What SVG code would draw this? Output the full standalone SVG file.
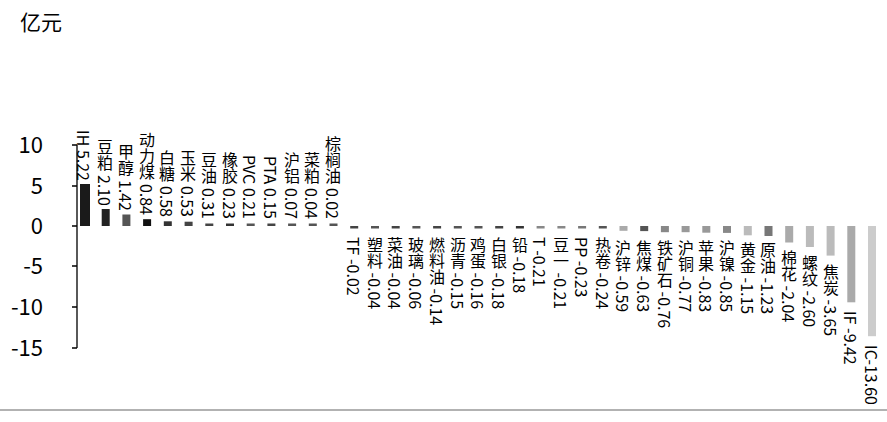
<svg xmlns="http://www.w3.org/2000/svg" width="887" height="422" viewBox="0 0 887 422">
<style>
text{font-family:"Noto Sans CJK SC","Liberation Sans",sans-serif;fill:#000}
.t{font-size:21px}
.v{font-size:16px;writing-mode:vertical-rl;text-orientation:mixed}
.p{text-anchor:end}
.ax{stroke:#000;stroke-width:1.3;fill:none}
</style>
<rect width="887" height="422" fill="#fff"/>
<text class="t" x="20" y="30">亿元</text>
<g id="axis">
<path class="ax" d="M77 145V348M72 145H77M72 186H77M72 226H77M72 266H77M72 307H77M72 348H77"/>
<line x1="0" y1="410" x2="887" y2="410" stroke="#999" stroke-width="1.3"/>
<g style="font-family:'Liberation Sans',sans-serif;font-size:22px" text-anchor="end">
<text x="43" y="153">10</text>
<text x="43" y="194">5</text>
<text x="43" y="234">0</text>
<text x="43" y="274">-5</text>
<text x="43" y="315">-10</text>
<text x="43" y="356">-15</text>
</g>
</g>
<g id="bars">
<rect x="80" y="184" width="10" height="42" fill="#1a1a1a"/>
<rect x="101.7" y="209" width="8" height="17" fill="#222"/>
<rect x="122.4" y="214.5" width="8" height="11.5" fill="#555"/>
<rect x="143.1" y="219.2" width="8" height="6.8" fill="#111"/>
<rect x="163.8" y="221.3" width="8" height="4.7" fill="#333"/>
<rect x="184.6" y="221.7" width="8" height="4.3" fill="#444"/>
<rect x="205.3" y="223.5" width="8" height="2.5" fill="#444"/>
<rect x="226" y="223.5" width="8" height="2.5" fill="#333"/>
<rect x="246.7" y="223.5" width="8" height="2.5" fill="#555"/>
<rect x="267.4" y="223.5" width="8" height="2.5" fill="#444"/>
<rect x="288.1" y="223.5" width="8" height="2.5" fill="#555"/>
<rect x="308.8" y="223.5" width="8" height="2.5" fill="#555"/>
<rect x="329.5" y="223.5" width="8" height="2.5" fill="#555"/>
<rect x="350.2" y="226" width="8" height="2.5" fill="#444"/>
<rect x="371" y="226" width="8" height="2.5" fill="#555"/>
<rect x="391.7" y="226" width="8" height="2.5" fill="#444"/>
<rect x="412.4" y="226" width="8" height="2.5" fill="#555"/>
<rect x="433.1" y="226" width="8" height="2.5" fill="#444"/>
<rect x="453.8" y="226" width="8" height="2.5" fill="#555"/>
<rect x="474.5" y="226" width="8" height="2.5" fill="#555"/>
<rect x="495.2" y="226" width="8" height="2.5" fill="#444"/>
<rect x="515.9" y="226" width="8" height="2.5" fill="#333"/>
<rect x="536.6" y="226" width="8" height="2.5" fill="#888"/>
<rect x="557.4" y="226" width="8" height="2.5" fill="#888"/>
<rect x="578.1" y="226" width="8" height="2.5" fill="#777"/>
<rect x="598.8" y="226" width="8" height="2.5" fill="#555"/>
<rect x="619.5" y="226" width="8" height="4.8" fill="#aaa"/>
<rect x="640.2" y="226" width="8" height="5.1" fill="#555"/>
<rect x="660.9" y="226" width="8" height="6.2" fill="#888"/>
<rect x="681.6" y="226" width="8" height="6.2" fill="#999"/>
<rect x="702.3" y="226" width="8" height="6.7" fill="#999"/>
<rect x="723" y="226" width="8" height="6.9" fill="#888"/>
<rect x="743.8" y="226" width="8" height="9.3" fill="#bbb"/>
<rect x="764.5" y="226" width="8" height="10" fill="#777"/>
<rect x="785.2" y="226" width="8" height="16.5" fill="#aaa"/>
<rect x="805.9" y="226" width="8" height="21" fill="#bbb"/>
<rect x="826.6" y="226" width="8" height="29.6" fill="#bbb"/>
<rect x="847.3" y="226" width="8" height="76.3" fill="#aaa"/>
<rect x="868" y="226" width="8" height="110.2" fill="#ccc"/>
</g>
<g id="labels">
<text class="v p" x="84" y="181">IH 5.22</text>
<text class="v p" x="105" y="206">豆粕 2.10</text>
<text class="v p" x="126" y="211">甲醇 1.42</text>
<text class="v p" x="147" y="215">动力煤 0.84</text>
<text class="v p" x="167" y="217">白糖 0.58</text>
<text class="v p" x="188" y="217">玉米 0.53</text>
<text class="v p" x="209" y="219">豆油 0.31</text>
<text class="v p" x="230" y="219">橡胶 0.23</text>
<text class="v p" x="250" y="219">PVC 0.21</text>
<text class="v p" x="271" y="219">PTA 0.15</text>
<text class="v p" x="292" y="219">沪铝 0.07</text>
<text class="v p" x="312" y="219">菜粕 0.04</text>
<text class="v p" x="333" y="219">棕榈油 0.02</text>
<text class="v" x="354" y="237">TF -0.02</text>
<text class="v" x="375" y="237">塑料 -0.04</text>
<text class="v" x="395" y="237">菜油 -0.04</text>
<text class="v" x="416" y="237">玻璃 -0.06</text>
<text class="v" x="437" y="237">燃料油 -0.14</text>
<text class="v" x="458" y="237">沥青 -0.15</text>
<text class="v" x="478" y="237">鸡蛋 -0.16</text>
<text class="v" x="499" y="237">白银 -0.18</text>
<text class="v" x="520" y="237">铅 -0.18</text>
<text class="v" x="540" y="237">T -0.21</text>
<text class="v" x="561" y="237">豆一 -0.21</text>
<text class="v" x="582" y="237">PP -0.23</text>
<text class="v" x="603" y="237">热卷 -0.24</text>
<text class="v" x="623" y="240">沪锌 -0.59</text>
<text class="v" x="644" y="240">焦煤 -0.63</text>
<text class="v" x="665" y="240">铁矿石 -0.76</text>
<text class="v" x="686" y="240">沪铜 -0.77</text>
<text class="v" x="706" y="240">苹果 -0.83</text>
<text class="v" x="727" y="240">沪镍 -0.85</text>
<text class="v" x="748" y="242">黄金 -1.15</text>
<text class="v" x="768" y="242">原油 -1.23</text>
<text class="v" x="789" y="250">棉花 -2.04</text>
<text class="v" x="810" y="255">螺纹 -2.60</text>
<text class="v" x="831" y="264">焦炭 -3.65</text>
<text class="v" x="851" y="311">IF -9.42</text>
<text class="v" x="872" y="345">IC-13.60</text>
</g>
</svg>
